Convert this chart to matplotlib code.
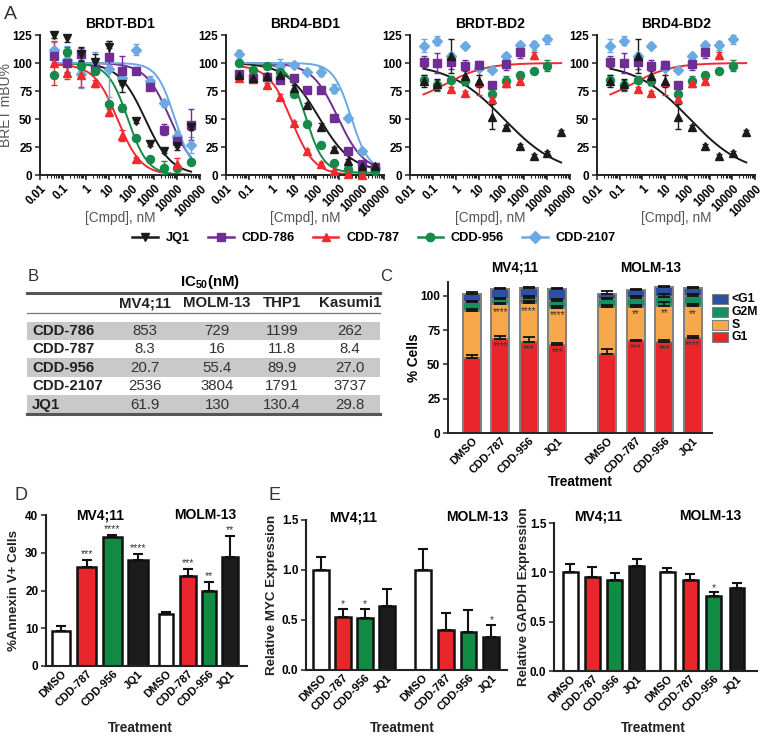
import numpy as np
import matplotlib
matplotlib.use('Agg')
import matplotlib.pyplot as plt
from matplotlib.patches import Rectangle
from matplotlib.lines import Line2D
from matplotlib.ticker import LogLocator, NullFormatter
import matplotlib.transforms as mtrans

plt.rcParams['font.family'] = ['Liberation Sans', 'DejaVu Sans']
plt.rcParams['mathtext.fontset'] = 'custom'
plt.rcParams['mathtext.bf'] = 'Liberation Sans:bold'
plt.rcParams['mathtext.rm'] = 'Liberation Sans'

nan = float('nan')

# ---------------- Panel A data ----------------
conc = [0.039, 0.156, 0.625, 2.5, 10, 40, 160, 640, 2560, 10240, 40960]
series_names = ['JQ1', 'CDD-786', 'CDD-787', 'CDD-956', 'CDD-2107']

# BRDT-BD1
brdt_bd1_jq1 = [125, 122, 108, 101, 114, 81, 48, 27.6, 21.6, 26, 43]
brdt_bd1_786 = [106, 100, 108, 95, 105, 93, 93, 79, 40.5, 30, 45]
brdt_bd1_787 = [100, 91, 89, 82, 56, 35, 14, nan, nan, 10, nan]
brdt_bd1_956 = [89, 110, 97, 93, 63.5, 60, 33, 14, 6.6, 6, 12]
brdt_bd1_2107 = [112, 103, 90, 100, 95, 87, 112, 84, 64, 35, 27]
brdt_bd1_jq1_err = [3, 3, 6, 7, 6, 7, 2, 2, 2, 4, 3]
brdt_bd1_786_err = [6, 8, 5, 5, 8, 13, 3, 3, 5, 5, 14]
brdt_bd1_787_err = [20, 5, 10, 3, 3, 5, 2, 0, 0, 5, 0]
brdt_bd1_956_err = [2, 4, 4, 3, 2, 3, 2, 2, 6, 2, 2]
brdt_bd1_2107_err = [7, 12, 12, 10, 25, 6, 5, 4, 3, 4, 7]

# BRD4-BD1
brd4_bd1_jq1 = [89, 87, 88.4, 89.3, 77.6, 62.6, 43, 23, 12.6, 8, 8]
brd4_bd1_786 = [90, 87, 87.5, 85, 87, 75.5, 75.5, 51, 21, 10, 7.5]
brd4_bd1_787 = [87, 86, 80, 70, 46, 21.6, 9.6, 3.6, 0.6, 0.2, nan]
brd4_bd1_956 = [100, 94, 97, 92.3, 72.5, 45.6, 27, 10.5, 5, 2.7, 3.6]
brd4_bd1_2107 = [107.6, nan, nan, 97.4, 98.6, 92, 92, 77, 51, 21.6, 6.6]
brd4_bd1_jq1_err = [2, 2, 3, 3, 3, 2, 3, 2, 2, 2, 2]
brd4_bd1_786_err = [2, 2, 2, 2, 2, 2, 2, 2, 2, 2, 2]
brd4_bd1_787_err = [2, 2, 2, 2, 2, 2, 2, 1, 1, 1, 0]
brd4_bd1_956_err = [2, 2, 2, 2, 2, 2, 2, 2, 1, 1, 1]
brd4_bd1_2107_err = [4, 0, 0, 6, 2, 2, 4, 4, 2, 2, 2]

# BRDT-BD2
brdt_bd2_jq1 = [84, 81, 106, 88, 84, 52, 43, 26, 17, 19.5, 38.4]
brdt_bd2_786 = [101, 100, 101, 97.5, 98, 80, 99, 109.6, nan, nan, nan]
brdt_bd2_787 = [nan, nan, 76.5, 73, 83, 68, 82, 84, 107, nan, nan]
brdt_bd2_956 = [85, 80, 85, 84, nan, 72.4, 84, 89, 93, 97.5, nan]
brdt_bd2_2107 = [115.5, 120, 106, 115.5, 95.5, 94, 106, 116, 116, 121, nan]
brdt_bd2_jq1_err = [5, 5, 15, 8, 5, 11, 2, 2, 2, 2, 2]
brdt_bd2_786_err = [5, 9, 6, 5, 4, 3, 5, 5, 0, 0, 0]
brdt_bd2_787_err = [0, 0, 2, 2, 12, 3, 3, 2, 3, 0, 0]
brdt_bd2_956_err = [4, 5, 3, 4, 0, 3, 4, 3, 2, 5, 0]
brdt_bd2_2107_err = [6, 4, 3, 2, 2, 2, 3, 3, 4, 4, 0]

# BRD4-BD2 (same measurements as shown)
brd4_bd2_jq1 = list(brdt_bd2_jq1)
brd4_bd2_786 = list(brdt_bd2_786)
brd4_bd2_787 = list(brdt_bd2_787)
brd4_bd2_956 = list(brdt_bd2_956)
brd4_bd2_2107 = list(brdt_bd2_2107)

# fitted 4PL parameters: (top, bottom, ic50, hill)
brdt_bd1_fits = {'JQ1': (100, 0, 400, 0.75), 'CDD-786': (100, 0, 5000, 0.8),
                 'CDD-787': (99, 0, 25, 0.85), 'CDD-956': (100, 0, 70, 1.0),
                 'CDD-2107': (100, 0, 8000, 1.1)}
brd4_bd1_fits = {'JQ1': (100, 3, 130, 0.6), 'CDD-786': (100, 3, 900, 0.75),
                 'CDD-787': (98, 0, 8, 0.85), 'CDD-956': (100, 2, 35, 1.1),
                 'CDD-2107': (100, 3, 3500, 1.1)}
bd2_fits = {'JQ1': (100, 0, 130, 0.36), 'CDD-787': (63, 100, 0.38, 0.5)}

# ---------------- Panel B data ----------------
table_title = r'$\mathbf{IC_{50}(nM)}$'
table_cols = ['MV4;11', 'MOLM-13', 'THP1', 'Kasumi1']
table_rows = ['CDD-786', 'CDD-787', 'CDD-956', 'CDD-2107', 'JQ1']
table_vals = [['853', '729', '1199', '262'],
              ['8.3', '16', '11.8', '8.4'],
              ['20.7', '55.4', '89.9', '27.0'],
              ['2536', '3804', '1791', '3737'],
              ['61.9', '130', '130.4', '29.8']]

# ---------------- Panel C data ----------------
treatments = ['DMSO', 'CDD-787', 'CDD-956', 'JQ1']
c_g1 = [54.3, 68.4, 66.4, 64.0, 57.4, 66.9, 66.4, 68.9]
c_s = [34.7, 25.3, 28.0, 27.2, 34.6, 25.1, 26.3, 23.6]
c_g2m = [6.1, 3.6, 4.1, 5.2, 5.6, 6.5, 6.6, 7.3]
c_subg1 = [6.1, 7.6, 6.9, 8.5, 3.6, 5.6, 6.7, 5.6]
c_g1_err = [2.5, 2.5, 3.5, 1.5, 3.5, 1.2, 1.2, 1.5]
c_s_err = [1.3, 1.0, 1.5, 1.0, 1.2, 1.5, 2.5, 1.5]
c_g2m_err = [1.2, 1.2, 1.0, 1.0, 0.8, 1.5, 2.0, 1.2]
c_subg1_err = [1.5, 1.0, 1.2, 1.0, 2.0, 0.8, 1.0, 0.8]
c_s_sig = ['', '****', '****', '****', '', '**', '**', '**']
c_g1_sig = ['', '****', '***', '***', '', '***', '***', '****']

# ---------------- Panel D data ----------------
d_vals = [9.2, 26.2, 34.3, 28.2, 13.8, 23.9, 20.0, 29.0]
d_err = [1.5, 1.9, 0.4, 1.4, 0.6, 1.7, 2.3, 5.4]
d_sig = ['', '***', '****', '****', '', '***', '**', '**']

# ---------------- Panel E data ----------------
myc_vals = [1.0, 0.53, 0.52, 0.64, 1.0, 0.40, 0.38, 0.33]
myc_err = [0.13, 0.08, 0.09, 0.17, 0.21, 0.17, 0.22, 0.12]
myc_sig = ['', '*', '*', '', '', '', '', '*']
gapdh_vals = [1.0, 0.95, 0.92, 1.06, 1.0, 0.92, 0.76, 0.84]
gapdh_err = [0.08, 0.10, 0.07, 0.08, 0.04, 0.06, 0.04, 0.05]
gapdh_sig = ['', '', '', '', '', '', '*', '']

# ---------------- styles ----------------
W, H = 762, 737
fig = plt.figure(figsize=(W / 100, H / 100), dpi=100)

colors = {'JQ1': '#1b1b1b', 'CDD-786': '#6f2e93', 'CDD-787': '#ee2b2e',
          'CDD-956': '#17894a', 'CDD-2107': '#6aa9e2'}
markers = {'JQ1': '^', 'CDD-786': 's', 'CDD-787': '^', 'CDD-956': 'o', 'CDD-2107': 'D'}
msizes = {'JQ1': 5.6, 'CDD-786': 5.6, 'CDD-787': 5.6, 'CDD-956': 5.8, 'CDD-2107': 4.8}
bar_colors = ['white', '#e8262b', '#118a44', '#1c1c1c'] * 2
AXC = '#222222'
TICK_FS = 8.5


def px_axes(l, t, r, b):
    return fig.add_axes([l / W, 1 - b / H, (r - l) / W, (b - t) / H])


def style_axes(ax, lw=1.4):
    for s in ['top', 'right']:
        ax.spines[s].set_visible(False)
    for s in ['left', 'bottom']:
        ax.spines[s].set_linewidth(lw)
        ax.spines[s].set_color(AXC)
    ax.tick_params(width=1.1, length=3.5, color=AXC, pad=2)
    ax.set_facecolor('none')


overlay = fig.add_axes([0, 0, 1, 1])
overlay.set_xlim(0, W)
overlay.set_ylim(H, 0)
overlay.axis('off')


# ---------------- Panel A ----------------
def dose_panel(rect, title, data, errs, fits, jq1_marker, ylabel=False):
    ax = px_axes(*rect)
    style_axes(ax)
    ax.set_xscale('log')
    xs = np.logspace(np.log10(conc[0]), np.log10(conc[-1]), 300)
    for name in series_names:
        if name in fits:
            top, bot, ic, h = fits[name]
            ys = bot + (top - bot) / (1 + (xs / ic) ** h)
            ax.plot(xs, ys, color=colors[name], lw=1.4, zorder=2)
    for name in ['CDD-2107', 'CDD-786', 'CDD-956', 'CDD-787', 'JQ1']:
        m = jq1_marker if name == 'JQ1' else markers[name]
        ax.errorbar(conc, data[name], yerr=errs[name], fmt=m, color=colors[name],
                    ms=msizes[name], capsize=2.2, elinewidth=1.0, capthick=1.0,
                    zorder=3, clip_on=False)
    ax.set_xlim(0.01, 1e5)
    ax.set_ylim(0, 125)
    ax.set_yticks([0, 25, 50, 75, 100, 125])
    ax.set_xticks([1e-2, 1e-1, 1, 10, 100, 1000, 1e4, 1e5])
    ax.set_xticklabels(['0.01', '0.1', '1', '10', '100', '1000', '10000', '100000'],
                       rotation=45, ha='right', rotation_mode='anchor')
    ax.xaxis.set_minor_locator(LogLocator(base=10, subs=np.arange(2, 10), numticks=20))
    ax.xaxis.set_minor_formatter(NullFormatter())
    ax.tick_params(axis='x', which='minor', length=2, width=0.8, color=AXC)
    for lab in ax.get_xticklabels():
        lab.set_fontweight('bold')
        lab.set_fontsize(8.3)
    for lab in ax.get_yticklabels():
        lab.set_fontweight('bold')
        lab.set_fontsize(TICK_FS)
    ax.text(0.5, 1.08, title, transform=ax.transAxes, ha='center', va='center',
            fontsize=10, fontweight='bold')
    ax.text(0.5, -0.31, '[Cmpd], nM', transform=ax.transAxes, ha='center', va='center',
            fontsize=9.8, color='#555555')
    if ylabel:
        ax.text(-0.212, 0.5, 'BRET mBU%', transform=ax.transAxes, ha='center', va='center',
                rotation=90, fontsize=10, color='#555555')
    return ax


dose_panel((40, 35, 200, 175), 'BRDT-BD1',
           {'JQ1': brdt_bd1_jq1, 'CDD-786': brdt_bd1_786, 'CDD-787': brdt_bd1_787,
            'CDD-956': brdt_bd1_956, 'CDD-2107': brdt_bd1_2107},
           {'JQ1': brdt_bd1_jq1_err, 'CDD-786': brdt_bd1_786_err, 'CDD-787': brdt_bd1_787_err,
            'CDD-956': brdt_bd1_956_err, 'CDD-2107': brdt_bd1_2107_err},
           brdt_bd1_fits, 'v', ylabel=True)
dose_panel((226, 35, 384, 175), 'BRD4-BD1',
           {'JQ1': brd4_bd1_jq1, 'CDD-786': brd4_bd1_786, 'CDD-787': brd4_bd1_787,
            'CDD-956': brd4_bd1_956, 'CDD-2107': brd4_bd1_2107},
           {'JQ1': brd4_bd1_jq1_err, 'CDD-786': brd4_bd1_786_err, 'CDD-787': brd4_bd1_787_err,
            'CDD-956': brd4_bd1_956_err, 'CDD-2107': brd4_bd1_2107_err},
           brd4_bd1_fits, '^')
bd2_err = {'JQ1': brdt_bd2_jq1_err, 'CDD-786': brdt_bd2_786_err, 'CDD-787': brdt_bd2_787_err,
           'CDD-956': brdt_bd2_956_err, 'CDD-2107': brdt_bd2_2107_err}
dose_panel((410, 35, 570, 175), 'BRDT-BD2',
           {'JQ1': brdt_bd2_jq1, 'CDD-786': brdt_bd2_786, 'CDD-787': brdt_bd2_787,
            'CDD-956': brdt_bd2_956, 'CDD-2107': brdt_bd2_2107},
           bd2_err, bd2_fits, '^')
dose_panel((597, 35, 755, 175), 'BRD4-BD2',
           {'JQ1': brd4_bd2_jq1, 'CDD-786': brd4_bd2_786, 'CDD-787': brd4_bd2_787,
            'CDD-956': brd4_bd2_956, 'CDD-2107': brd4_bd2_2107},
           bd2_err, bd2_fits, '^')

handles = []
for name in series_names:
    m = 'v' if name == 'JQ1' else markers[name]
    handles.append(Line2D([0], [0], color=colors[name], marker=m, lw=1.8, ms=6))
fig.legend(handles, series_names, loc='center', bbox_to_anchor=(374 / W, 1 - 238 / H),
           ncol=5, frameon=False, prop={'weight': 'bold', 'size': 9.2},
           handlelength=2.0, handletextpad=0.6, columnspacing=1.45)

# ---------------- Panel B (table) ----------------
overlay.text(210, 282, table_title, ha='center', va='center', fontsize=10.8)
col_x = [145, 217, 282, 350]
row_y = [331, 349, 367.5, 386, 404.5]
for i in range(len(table_rows)):
    if i % 2 == 0:
        overlay.add_patch(Rectangle((27, row_y[i] - 9.2), 353, 18.4, color='#c9c9c9', lw=0, zorder=0))
overlay.plot([27, 380], [293, 293], color='#555555', lw=2.2)
overlay.plot([27, 380], [313, 313], color='#777777', lw=0.9)
overlay.plot([27, 380], [414, 414], color='#555555', lw=2.2)
for j, c in enumerate(table_cols):
    overlay.text(col_x[j], 303, c, ha='center', va='center', fontsize=10.8, fontweight='bold', color='#222222')
for i, r in enumerate(table_rows):
    overlay.text(32, row_y[i], r, ha='left', va='center', fontsize=10.8, fontweight='bold', color='#222222')
    for j in range(len(table_cols)):
        overlay.text(col_x[j], row_y[i], table_vals[i][j], ha='center', va='center',
                     fontsize=10.8, color='#333333')

# ---------------- Panel C ----------------
axc = px_axes(448, 282, 712, 433)
style_axes(axc)
c_pos = np.array([0, 1, 2, 3, 4.75, 5.75, 6.75, 7.75])
c_cols = {'G1': '#e8262b', 'S': '#f7a84a', 'G2M': '#179060', '<G1': '#2d50a2'}
bottom = np.zeros(8)
layers = [('G1', c_g1, c_g1_err), ('S', c_s, c_s_err), ('G2M', c_g2m, c_g2m_err),
          ('<G1', c_subg1, c_subg1_err)]
for name, vals, err in layers:
    vals = np.array(vals)
    axc.bar(c_pos, vals, 0.63, bottom=bottom, color=c_cols[name], edgecolor='#808080',
            lw=1.4, zorder=2)
    tops = bottom + vals
    axc.errorbar(c_pos, tops, yerr=[np.zeros(8), err], fmt='none', ecolor='#111111',
                 capsize=4, elinewidth=1.2, capthick=1.3, zorder=3)
    bottom = tops
s_top = np.array(c_g1) + np.array(c_s)
for i in range(8):
    if c_s_sig[i]:
        axc.text(c_pos[i], s_top[i] - 2.0, c_s_sig[i], ha='center', va='top', fontsize=7, color='#333333')
    if c_g1_sig[i]:
        axc.text(c_pos[i], c_g1[i] - 1.3, c_g1_sig[i], ha='center', va='top', fontsize=7, color='#333333')
axc.set_xlim(-0.84, 8.42)
axc.set_ylim(0, 110)
axc.set_yticks([0, 25, 50, 75, 100])
axc.set_xticks(c_pos)
axc.set_xticklabels(treatments * 2, rotation=45, ha='right', rotation_mode='anchor')
for lab in axc.get_xticklabels():
    lab.set_fontweight('bold')
    lab.set_fontsize(8)
for lab in axc.get_yticklabels():
    lab.set_fontweight('bold')
    lab.set_fontsize(TICK_FS)
axc.tick_params(axis='x', length=0)
trc = mtrans.blended_transform_factory(axc.transData, axc.transAxes)
axc.text(c_pos[:4].mean(), 1.095, 'MV4;11', transform=trc, ha='center', va='center', fontsize=9.8, fontweight='bold')
axc.text(c_pos[4:].mean(), 1.095, 'MOLM-13', transform=trc, ha='center', va='center', fontsize=9.8, fontweight='bold')
axc.text(-0.13, 0.5, '% Cells', transform=axc.transAxes, rotation=90, ha='center', va='center', fontsize=9.8, fontweight='bold')
axc.text(0.5, -0.325, 'Treatment', transform=axc.transAxes, ha='center', va='center', fontsize=9.8, fontweight='bold')
for k, (name, yy) in enumerate([('<G1', 299), ('G2M', 312), ('S', 324.5), ('G1', 337)]):
    overlay.add_patch(Rectangle((712, yy - 5), 16, 10, facecolor=c_cols[name], edgecolor='#808080', lw=0.8))
    overlay.text(732, yy, name, ha='left', va='center', fontsize=8.8, fontweight='bold')


# ---------------- Bar panels D, E ----------------
def bar_panel(rect, pos, vals, err, sig, width, ylim, yticks, yfmt, ylabel, ylab_x,
              title_pos, title_y, treat_xy, sig_off):
    ax = px_axes(*rect)
    style_axes(ax, lw=1.5)
    pos = np.array(pos)
    ax.errorbar(pos, vals, yerr=[np.zeros(len(vals)), err], fmt='none', ecolor='#111111',
                capsize=3.5, elinewidth=1.5, capthick=1.5, zorder=1)
    ax.bar(pos, vals, width, color=bar_colors, edgecolor='#111111', lw=1.8, zorder=2)
    for i in range(len(vals)):
        if sig[i]:
            ax.text(pos[i], vals[i] + err[i] + sig_off, sig[i], ha='center', va='center',
                    fontsize=7.5, color='#333333')
    ax.set_ylim(*ylim)
    ax.set_yticks(yticks)
    ax.set_yticklabels([yfmt.format(v) for v in yticks])
    ax.set_xticks(pos)
    ax.set_xticklabels(treatments * 2, rotation=45, ha='right', rotation_mode='anchor')
    ax.tick_params(axis='x', length=0)
    for lab in ax.get_xticklabels():
        lab.set_fontweight('bold')
        lab.set_fontsize(8)
    for lab in ax.get_yticklabels():
        lab.set_fontweight('bold')
        lab.set_fontsize(TICK_FS)
    ax.text(title_pos[0], title_y, 'MV4;11', transform=ax.transAxes, ha='center', va='center',
            fontsize=10, fontweight='bold')
    ax.text(title_pos[1], title_y, 'MOLM-13', transform=ax.transAxes, ha='center', va='center',
            fontsize=10, fontweight='bold')
    ax.text(ylab_x, 0.5, ylabel, transform=ax.transAxes, rotation=90, ha='center', va='center',
            fontsize=9.6, fontweight='bold', color='#222222')
    ax.text(treat_xy[0], treat_xy[1], 'Treatment', transform=ax.transAxes, ha='center',
            va='center', fontsize=9.8, fontweight='bold', color='#222222')
    return ax


axd = bar_panel((46, 515, 247, 666), [0, 1, 2, 3, 4.09, 4.94, 5.76, 6.58], d_vals, d_err, d_sig,
                [0.72, 0.75, 0.75, 0.75, 0.58, 0.62, 0.58, 0.6], (0, 40), [0, 10, 20, 30, 40], '{:.0f}',
                '%Annexin V+ Cells', -0.16, (0.27, 0.79), 1.0, (0.47, -0.41), 1.6)
axd.set_xlim(-0.58, 7.24)

axe1 = bar_panel((306, 520, 507, 670), [0, 1, 2, 3, 4.62, 5.66, 6.7, 7.74], myc_vals, myc_err, myc_sig,
                 0.72, (0, 1.5), [0.0, 0.5, 1.0, 1.5], '{:.1f}',
                 'Relative MYC Expression', -0.17, (0.234, 0.85), 1.02, (0.48, -0.387), 0.05)
axe1.set_xlim(-0.68, 8.45)

axe2 = bar_panel((554, 523, 757, 671), [0, 1.02, 2.03, 3.03, 4.41, 5.47, 6.53, 7.59], gapdh_vals, gapdh_err,
                 gapdh_sig, 0.68, (0, 1.5), [0.0, 0.5, 1.0, 1.5], '{:.1f}',
                 'Relative GAPDH Expression', -0.148, (0.217, 0.77), 1.047, (0.49, -0.385), 0.04)
axe2.set_xlim(-0.73, 8.5)

# ---------------- panel letters ----------------
overlay.text(4, 14, 'A', fontsize=14, ha='left', va='center', color='#333333')
overlay.text(28, 276, 'B', fontsize=12, ha='left', va='center', color='#333333')
overlay.text(380, 276, 'C', fontsize=12, ha='left', va='center', color='#333333')
overlay.text(14, 495, 'D', fontsize=13, ha='left', va='center', color='#333333')
overlay.text(268, 495, 'E', fontsize=13, ha='left', va='center', color='#333333')

fig.savefig('out.png', dpi=100)
